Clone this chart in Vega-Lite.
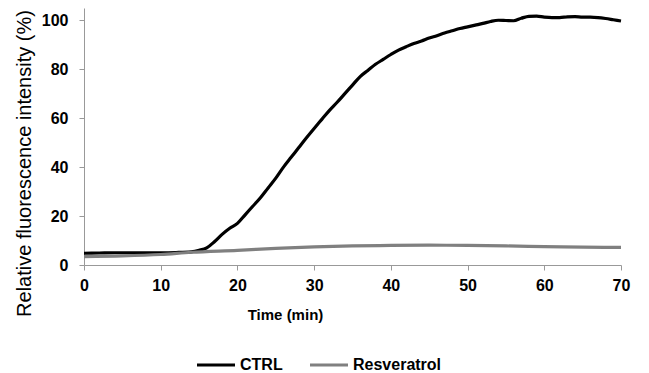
{
  "$schema": "https://vega.github.io/schema/vega-lite/v6.json",
  "autosize": {"type": "none"},
  "padding": {"left": 84, "top": 8, "right": 28, "bottom": 108},
  "width": 537,
  "height": 257,
  "background": "white",
  "config": {"view": {"stroke": null}, "font": "Liberation Sans"},
  "data": {"values": [
    {"t": 0, "v": 4.8, "s": "CTRL"}, {"t": 2, "v": 4.9, "s": "CTRL"}, {"t": 4, "v": 5.0, "s": "CTRL"},
    {"t": 6, "v": 5.0, "s": "CTRL"}, {"t": 8, "v": 5.0, "s": "CTRL"}, {"t": 10, "v": 5.0, "s": "CTRL"},
    {"t": 12, "v": 5.1, "s": "CTRL"}, {"t": 14, "v": 5.4, "s": "CTRL"}, {"t": 15, "v": 6.0, "s": "CTRL"},
    {"t": 16, "v": 7.0, "s": "CTRL"}, {"t": 17, "v": 9.5, "s": "CTRL"}, {"t": 18, "v": 12.5, "s": "CTRL"},
    {"t": 19, "v": 15, "s": "CTRL"}, {"t": 20, "v": 17, "s": "CTRL"}, {"t": 21, "v": 20.5, "s": "CTRL"},
    {"t": 22, "v": 24, "s": "CTRL"}, {"t": 23, "v": 27.5, "s": "CTRL"}, {"t": 24, "v": 31.5, "s": "CTRL"},
    {"t": 25, "v": 35.5, "s": "CTRL"}, {"t": 26, "v": 40, "s": "CTRL"}, {"t": 27, "v": 44, "s": "CTRL"},
    {"t": 28, "v": 48, "s": "CTRL"}, {"t": 29, "v": 52, "s": "CTRL"}, {"t": 30, "v": 55.8, "s": "CTRL"},
    {"t": 31, "v": 59.5, "s": "CTRL"}, {"t": 32, "v": 63.2, "s": "CTRL"}, {"t": 33, "v": 66.5, "s": "CTRL"},
    {"t": 34, "v": 70, "s": "CTRL"}, {"t": 35, "v": 73.5, "s": "CTRL"}, {"t": 36, "v": 77, "s": "CTRL"},
    {"t": 37, "v": 79.5, "s": "CTRL"}, {"t": 38, "v": 82, "s": "CTRL"}, {"t": 39, "v": 84, "s": "CTRL"},
    {"t": 40, "v": 86, "s": "CTRL"}, {"t": 41, "v": 87.8, "s": "CTRL"}, {"t": 42, "v": 89.2, "s": "CTRL"},
    {"t": 43, "v": 90.5, "s": "CTRL"}, {"t": 44, "v": 91.5, "s": "CTRL"}, {"t": 45, "v": 92.7, "s": "CTRL"},
    {"t": 46, "v": 93.7, "s": "CTRL"}, {"t": 47, "v": 94.8, "s": "CTRL"}, {"t": 48, "v": 95.7, "s": "CTRL"},
    {"t": 49, "v": 96.6, "s": "CTRL"}, {"t": 50, "v": 97.3, "s": "CTRL"}, {"t": 51, "v": 98, "s": "CTRL"},
    {"t": 52, "v": 98.7, "s": "CTRL"}, {"t": 53, "v": 99.5, "s": "CTRL"}, {"t": 54, "v": 100, "s": "CTRL"},
    {"t": 55, "v": 99.9, "s": "CTRL"}, {"t": 56, "v": 99.8, "s": "CTRL"}, {"t": 57, "v": 100.8, "s": "CTRL"},
    {"t": 58, "v": 101.6, "s": "CTRL"}, {"t": 59, "v": 101.7, "s": "CTRL"}, {"t": 60, "v": 101.3, "s": "CTRL"},
    {"t": 61, "v": 101.1, "s": "CTRL"}, {"t": 62, "v": 101.1, "s": "CTRL"}, {"t": 63, "v": 101.4, "s": "CTRL"},
    {"t": 64, "v": 101.5, "s": "CTRL"}, {"t": 65, "v": 101.3, "s": "CTRL"}, {"t": 66, "v": 101.3, "s": "CTRL"},
    {"t": 67, "v": 101.1, "s": "CTRL"}, {"t": 68, "v": 100.7, "s": "CTRL"}, {"t": 69, "v": 100.2, "s": "CTRL"},
    {"t": 70, "v": 99.7, "s": "CTRL"},
    {"t": 0, "v": 3.4, "s": "Resveratrol"}, {"t": 5, "v": 3.7, "s": "Resveratrol"}, {"t": 10, "v": 4.3, "s": "Resveratrol"},
    {"t": 14, "v": 5.2, "s": "Resveratrol"}, {"t": 20, "v": 6.0, "s": "Resveratrol"}, {"t": 25, "v": 6.8, "s": "Resveratrol"},
    {"t": 30, "v": 7.4, "s": "Resveratrol"}, {"t": 35, "v": 7.8, "s": "Resveratrol"}, {"t": 40, "v": 8.0, "s": "Resveratrol"},
    {"t": 45, "v": 8.1, "s": "Resveratrol"}, {"t": 50, "v": 8.0, "s": "Resveratrol"}, {"t": 55, "v": 7.8, "s": "Resveratrol"},
    {"t": 60, "v": 7.5, "s": "Resveratrol"}, {"t": 65, "v": 7.3, "s": "Resveratrol"}, {"t": 70, "v": 7.2, "s": "Resveratrol"}
  ]},
  "mark": {"type": "line", "interpolate": "monotone", "strokeWidth": 3.2},
  "encoding": {
    "x": {
      "field": "t", "type": "quantitative",
      "scale": {"domain": [0, 70], "nice": false, "zero": false},
      "axis": {
        "title": "Time (min)", "values": [0, 10, 20, 30, 40, 50, 60, 70],
        "grid": false, "domainColor": "#999999", "tickColor": "#999999", "tickSize": 5,
        "labelFont": "Liberation Sans", "labelFontSize": 16, "labelFontWeight": "bold", "labelColor": "#000000",
        "labelPadding": 7, "labelFlush": false,
        "titleFont": "Liberation Sans", "titleFontSize": 15, "titleFontWeight": "bold", "titleColor": "#000000",
        "titleX": 201, "titleY": 42
      }
    },
    "y": {
      "field": "v", "type": "quantitative",
      "scale": {"domain": [0, 105], "nice": false},
      "axis": {
        "title": "Relative fluorescence intensity (%)", "values": [0, 20, 40, 60, 80, 100],
        "grid": false, "domainColor": "#999999", "tickColor": "#999999", "tickSize": 5,
        "labelFont": "Liberation Sans", "labelFontSize": 16, "labelFontWeight": "bold", "labelColor": "#000000",
        "labelPadding": 11,
        "titleFont": "Liberation Sans", "titleFontSize": 20, "titleFontWeight": "normal", "titleColor": "#000000",
        "titleX": -50, "titleY": 155
      }
    },
    "color": {
      "field": "s", "type": "nominal",
      "scale": {"domain": ["CTRL", "Resveratrol"], "range": ["#000000", "#808080"]},
      "legend": {
        "title": null, "orient": "none", "direction": "horizontal",
        "legendX": 111, "legendY": 336,
        "symbolType": "stroke", "symbolSize": 1444, "symbolStrokeWidth": 3.2,
        "labelFont": "Liberation Sans", "labelFontSize": 16, "labelFontWeight": "bold", "labelColor": "#000000",
        "labelOffset": 3, "columnPadding": 20
      }
    }
  }
}
